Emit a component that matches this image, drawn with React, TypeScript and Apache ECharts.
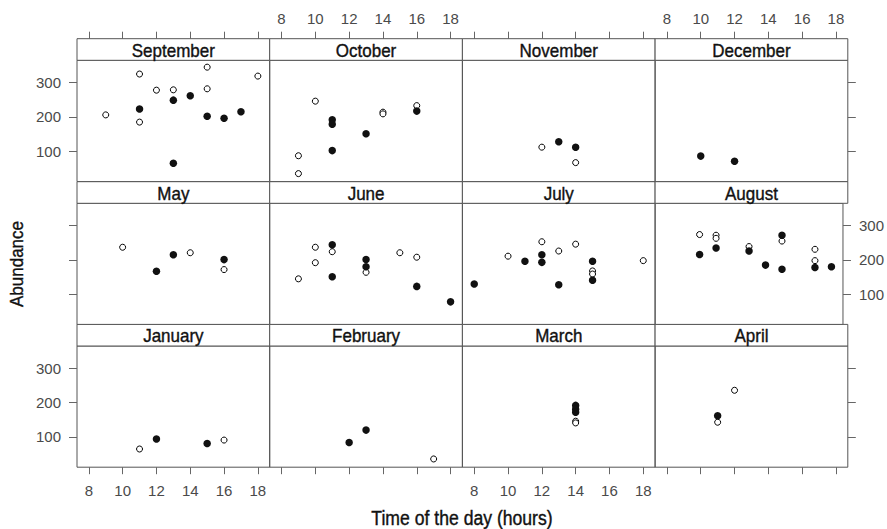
import React, { useEffect, useRef } from "react";
import * as echarts from "echarts";

const HOUR_TICKS = [8, 10, 12, 14, 16, 18];
const ABUND_TICKS = [100, 200, 300];

const MONTHS = [
  "September", "October", "November", "December",
  "May", "June", "July", "August",
  "January", "February", "March", "April",
];

const sepOpen = [[9, 206], [11, 325], [11, 185], [12, 278], [13, 279], [15, 345], [15, 282], [18, 319]];
const sepFilled = [[11, 223], [13, 249], [13, 65], [14, 262], [15, 202], [16, 196], [17, 215]];
const octOpen = [[9, 87], [9, 35], [10, 246], [14, 214], [14, 209], [16, 233]];
const octFilled = [[11, 192], [11, 179], [11, 102], [13, 151], [16, 217]];
const novOpen = [[12, 112], [14, 67]];
const novFilled = [[13, 128], [14, 112]];
const decOpen: number[][] = [];
const decFilled = [[10, 86], [12, 71]];
const mayOpen = [[10, 237], [14, 221], [16, 172]];
const mayFilled = [[12, 167], [13, 215], [16, 201]];
const junOpen = [[9, 145], [10, 237], [10, 192], [11, 224], [13, 164], [15, 221], [16, 208]];
const junFilled = [[11, 244], [11, 151], [13, 201], [13, 180], [16, 123], [18, 78]];
const julOpen = [[10, 211], [12, 253], [13, 226], [14, 246], [15, 168], [15, 159], [18, 198]];
const julFilled = [[8, 130], [11, 196], [12, 215], [12, 193], [13, 128], [15, 196], [15, 141]];
const augOpen = [[10, 274], [11, 272], [11, 263], [13, 239], [15, 255], [17, 231], [17, 198]];
const augFilled = [[10, 216], [11, 235], [13, 226], [14, 185], [15, 272], [15, 173], [17, 178], [18, 180]];
const janOpen = [[11, 65], [16, 91]];
const janFilled = [[12, 94], [15, 81]];
const febOpen = [[17, 36]];
const febFilled = [[12, 84], [13, 120]];
const marOpen = [[14, 146], [14, 141]];
const marFilled = [[14, 192], [14, 181], [14, 172]];
const aprOpen = [[11, 143], [12, 236]];
const aprFilled = [[11, 162]];

const OPEN = [sepOpen, octOpen, novOpen, decOpen, mayOpen, junOpen, julOpen, augOpen, janOpen, febOpen, marOpen, aprOpen];
const FILLED = [sepFilled, octFilled, novFilled, decFilled, mayFilled, junFilled, julFilled, augFilled, janFilled, febFilled, marFilled, aprFilled];

const FONT = "'Liberation Sans', Arial, sans-serif";

export default function App() {
  const ref = useRef<HTMLDivElement>(null);
  useEffect(() => {
    if (!ref.current) return;
    const chart = echarts.init(ref.current, null, { renderer: "svg" });
    const colLeft = [77, 269.7, 462.4, 655.1];
    const colW = 192.7;
    const stripTop = [38.7, 181.7, 324.4];
    const stripH = 21.6;
    const plotH = 121.2;
    const border = "#555";
    const tickColor = "#666";
    const labelColor = "#4a4a4a";

    const grids: any[] = [];
    const xAxes: any[] = [];
    const yAxes: any[] = [];
    const series: any[] = [];
    const graphics: any[] = [];

    MONTHS.forEach((m, i) => {
      const r = Math.floor(i / 4);
      const c = i % 4;
      const left = colLeft[c];
      const top = stripTop[r] + stripH;
      grids.push({
        left, top, width: colW, height: plotH,
        show: true, borderColor: border, borderWidth: 1, backgroundColor: "transparent",
      });
      const isTop = r === 0;
      const isBottom = r === 2;
      const showXLabel = (isTop && (c === 1 || c === 3)) || (isBottom && (c === 0 || c === 2));
      xAxes.push({
        type: "value",
        gridIndex: i,
        min: 7.3,
        max: 18.7,
        position: isTop ? "top" : "bottom",
        offset: isTop ? stripH : 0,
        axisLine: { show: false },
        axisTick: {
          show: isTop || isBottom,
          inside: false,
          length: 7,
          customValues: HOUR_TICKS,
          lineStyle: { color: tickColor, width: 1 },
        },
        axisLabel: {
          show: showXLabel,
          customValues: HOUR_TICKS,
          margin: isTop ? 13 : 16,
          fontSize: 15,
          fontFamily: FONT,
          color: labelColor,
        },
        splitLine: { show: false },
      });
      const isLeft = c === 0;
      const isRight = c === 3;
      const showYLabel = (isLeft && (r === 0 || r === 2)) || (isRight && r === 1);
      yAxes.push({
        type: "value",
        gridIndex: i,
        min: 12,
        max: 365,
        position: isRight ? "right" : "left",
        axisLine: { show: false },
        axisTick: {
          show: isLeft || isRight,
          inside: false,
          length: 8,
          customValues: ABUND_TICKS,
          lineStyle: { color: tickColor, width: 1 },
        },
        axisLabel: {
          show: showYLabel,
          customValues: ABUND_TICKS,
          margin: 16,
          fontSize: 15,
          fontFamily: FONT,
          color: labelColor,
        },
        splitLine: { show: false },
      });
      series.push({
        type: "scatter",
        xAxisIndex: i,
        yAxisIndex: i,
        data: OPEN[i],
        symbol: "circle",
        symbolSize: 6,
        itemStyle: { color: "#fff", borderColor: "#000", borderWidth: 1, opacity: 1 },
        emphasis: { disabled: true },
      });
      series.push({
        type: "scatter",
        xAxisIndex: i,
        yAxisIndex: i,
        data: FILLED[i],
        symbol: "circle",
        symbolSize: 7.5,
        itemStyle: { color: "#111", borderColor: "#111", borderWidth: 0, opacity: 1 },
        emphasis: { disabled: true },
      });
      graphics.push({
        type: "rect",
        shape: { x: left, y: stripTop[r], width: colW, height: stripH },
        style: { fill: "#fff", stroke: border, lineWidth: 1 },
        z: 10,
      });
      graphics.push({
        type: "text",
        x: left + colW / 2,
        y: stripTop[r] + stripH / 2 + 1,
        scaleY: 1.1,
        style: {
          text: m,
          fontSize: 17,
          fontFamily: FONT,
          fill: "#111",
          stroke: "#111",
          lineWidth: 0.35,
          align: "center",
          verticalAlign: "middle",
        },
        z: 11,
      });
    });

    graphics.push({
      type: "text",
      x: 17,
      y: 264,
      rotation: Math.PI / 2,
      scaleY: 1.1,
      style: {
        text: "Abundance",
        fontSize: 17,
        fontFamily: FONT,
        fill: "#111",
        stroke: "#111",
        lineWidth: 0.35,
        align: "center",
        verticalAlign: "middle",
      },
    });
    graphics.push({
      type: "text",
      x: 462,
      y: 518,
      scaleY: 1.1,
      style: {
        text: "Time of the day (hours)",
        fontSize: 17.6,
        fontFamily: FONT,
        fill: "#111",
        stroke: "#111",
        lineWidth: 0.35,
        align: "center",
        verticalAlign: "middle",
      },
    });

    chart.setOption({
      animation: false,
      backgroundColor: "#fff",
      grid: grids,
      xAxis: xAxes,
      yAxis: yAxes,
      series,
      graphic: graphics,
    });
    return () => chart.dispose();
  }, []);
  return (
    <div
      ref={ref}
      style={{ position: "absolute", left: 0, top: 0, width: 887, height: 529 }}
    />
  );
}
